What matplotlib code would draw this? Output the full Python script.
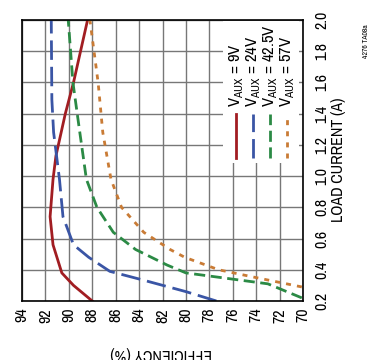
import matplotlib
matplotlib.use("Agg")
import matplotlib.pyplot as plt
from matplotlib.patches import Rectangle

plt.rcParams['font.family'] = ['Archivo Narrow', 'DejaVu Sans']
plt.rcParams['mathtext.fontset'] = 'custom'
plt.rcParams['mathtext.rm'] = 'Archivo Narrow'

# load current (A) vs efficiency (%) for each VAUX
i_9v = [0.2, 0.3, 0.38, 0.56, 0.74, 0.98, 1.13, 1.4, 1.6, 1.8, 2.0]
eff_9v = [88.0, 89.6, 90.6, 91.35, 91.6, 91.35, 91.1, 90.3, 89.6, 89.0, 88.4]

i_24v = [0.2, 0.26, 0.335, 0.39, 0.48, 0.56, 0.74, 0.98, 1.28, 1.49, 2.0]
eff_24v = [77.4, 80.0, 83.7, 86.5, 88.3, 89.6, 90.5, 90.8, 91.3, 91.45, 91.5]

i_42v = [0.22, 0.31, 0.38, 0.43, 0.53, 0.64, 0.8, 0.98, 1.3, 1.6, 2.0]
eff_42v = [70.1, 73.0, 80.0, 81.6, 84.3, 86.2, 87.6, 88.5, 89.1, 89.65, 90.05]

i_57v = [0.29, 0.356, 0.4, 0.48, 0.53, 0.64, 0.8, 0.98, 1.28, 1.6, 2.0]
eff_57v = [70.1, 74.4, 77.2, 80.1, 81.35, 83.6, 85.5, 86.4, 87.1, 87.5, 88.2]

labels = ["9V", "24V", "42.5V", "57V"]
colors = ["#a11d22", "#3a55a5", "#2b8a45", "#c97b35"]
dashes = [(None, None), (7, 2.5), (4, 2), (1.8, 2.2)]
series = [(i_9v, eff_9v), (i_24v, eff_24v), (i_42v, eff_42v), (i_57v, eff_57v)]

fig = plt.figure(figsize=(3.69, 3.6), dpi=100)
ax = fig.add_axes([22 / 369, 1 - 301 / 360, 281 / 369, 281 / 360])

for (cur, eff), c, d in zip(series, colors, dashes):
    line, = ax.plot(eff, cur, color=c, lw=2, clip_on=True)
    if d[0] is not None:
        line.set_dashes(d)

ax.set_xlim(94, 70)
ax.set_ylim(0.2, 2.0)
ax.set_xticks(range(94, 69, -2))
ax.set_yticks([0.2 + 0.2 * k for k in range(10)])
ax.set_xticklabels([str(v) for v in range(94, 69, -2)], rotation=90, fontsize=11.5)
ax.set_yticklabels([f"{0.2 + 0.2 * k:.1f}" for k in range(10)], rotation=90,
                   fontsize=11.5, va='center')
ax.yaxis.tick_right()
ax.tick_params(length=0)
ax.tick_params(axis='x', pad=5)
ax.tick_params(axis='y', pad=8)
ax.grid(True, color='#777777', lw=1)
for s in ax.spines.values():
    s.set_color('black')
    s.set_linewidth(1.2)

# legend drawn by hand, rotated with the chart
ax.add_patch(Rectangle((0.715, 0.49), 0.27, 0.505, transform=ax.transAxes,
                       facecolor='white', edgecolor='none', zorder=3))
leg_x = [0.762, 0.822, 0.884, 0.943]
for x, c, d, lab in zip(leg_x, colors, dashes, labels):
    line, = ax.plot([x, x], [0.51, 0.665], transform=ax.transAxes, color=c, lw=2, zorder=4)
    if d[0] is not None:
        line.set_dashes(d)
    ax.text(x, 0.69, r"V$_{\mathregular{AUX}}$ = " + lab, transform=ax.transAxes,
            rotation=90, ha='center', va='bottom', fontsize=12, zorder=5)

fig.text(339 / 369, 1 - 160 / 360, "LOAD CURRENT (A)", rotation=90,
         ha='center', va='center', fontsize=11.5)
fig.text(161 / 369, 1 - 354 / 360, "EFFICIENCY (%)", rotation=180,
         ha='center', va='center', fontsize=11.5)
fig.text(366 / 369, 1 - 41 / 360, "4276 TA08a", rotation=90,
         ha='center', va='center', fontsize=5.5)

fig.savefig("out.png", dpi=100)
